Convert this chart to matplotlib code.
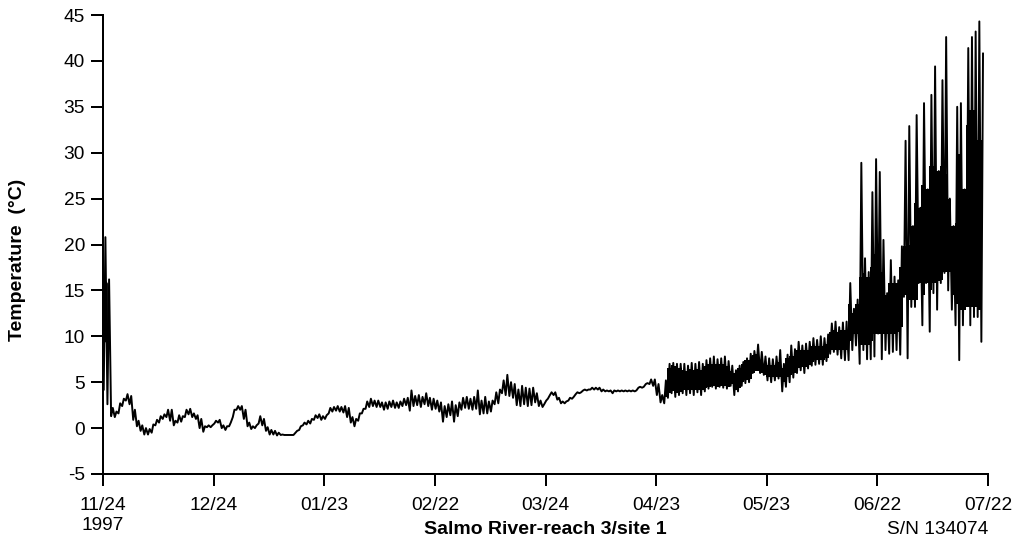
import numpy as np
import matplotlib.pyplot as plt

plt.rcParams['font.family'] = ['Liberation Sans', 'DejaVu Sans']
plt.rcParams['axes.unicode_minus'] = False

# daily minimum / maximum water temperature (deg C), one value per day from 11/24/1997
day_low = [
    4.2, 2.6, 1.3, 1.2, 1.6, 2.4, 3.0, 2.6, 0.9, 0.2,
    -0.3, -0.7, -0.7, -0.5, 0.3, 0.6, 1.0, 1.2, 0.8, 0.3,
    0.6, 0.7, 1.2, 1.5, 1.2, 1.0, 0.0, -0.4, 0.1, 0.1,
    0.5, 0.6, 0.0, -0.2, 0.2, 1.2, 2.0, 2.0, 1.0, 0.2,
    -0.1, 0.0, 0.5, 0.3, -0.3, -0.7, -0.7, -0.8, -0.75, -0.75,
    -0.75, -0.75, -0.5, -0.2, 0.3, 0.4, 0.5, 0.9, 1.1, 0.9,
    1.0, 1.6, 1.8, 1.9, 1.8, 1.7, 1.2, 0.6, 0.2, 0.8,
    1.6, 2.1, 2.3, 2.4, 2.3, 2.3, 2.0, 2.1, 2.3, 2.2,
    2.2, 2.4, 2.5, 1.9, 2.4, 2.5, 2.3, 2.6, 2.4, 2.0,
    2.1, 1.8, 0.7, 1.2, 1.4, 0.7, 1.3, 2.0, 2.2, 2.1,
    2.0, 2.1, 1.5, 1.6, 1.6, 1.8, 2.6, 2.7, 3.8, 3.6,
    3.5, 3.3, 2.5, 2.4, 2.6, 2.4, 2.5, 2.8, 2.4, 2.3,
    3.0, 3.6, 3.6, 3.1, 2.7, 2.7, 3.0, 3.2, 3.7, 3.8,
    4.1, 4.1, 4.2, 4.2, 4.2, 4.0, 4.0, 4.0, 3.8, 4.0,
    4.0, 4.0, 4.0, 4.0, 4.0, 4.4, 4.4, 4.8, 4.8, 4.6,
    3.6, 2.8, 2.7, 3.3, 3.8, 3.4, 3.6, 3.8, 3.6, 3.8,
    3.6, 3.9, 3.6, 4.0, 4.3, 4.5, 4.3, 4.5, 4.4, 4.3,
    4.6, 3.6, 4.0, 4.6, 4.9, 5.0, 6.0, 6.5, 6.0, 5.8,
    5.2, 5.0, 5.2, 5.4, 4.0, 4.5, 5.0, 5.5, 6.0, 6.3,
    6.0, 6.5, 6.8, 6.9, 7.0, 6.9, 7.3, 8.1, 8.3, 8.0,
    7.6, 7.4, 7.4, 8.5, 9.0, 7.0, 8.5, 7.5, 7.5, 7.8,
    10.3, 7.5, 8.5, 8.1, 8.3, 8.5, 8.0, 14.3, 7.6, 13.2,
    13.2, 15.8, 11.2, 15.8, 10.5, 14.7, 12.9, 15.8, 16.9, 15.0,
    12.9, 11.2, 7.4, 11.2, 15.2, 11.2, 12.1, 12.1, 9.4,
]
day_high = [
    20.8, 16.2, 2.2, 1.8, 2.7, 3.2, 3.7, 3.5, 2.0, 0.8,
    0.3, 0.0, -0.1, 0.4, 0.9, 1.3, 1.5, 2.0, 2.0, 0.8,
    1.4, 1.3, 2.0, 2.1, 1.6, 1.4, 1.0, 0.2, 0.3, 0.3,
    0.8, 0.9, 0.3, 0.2, 0.6, 2.0, 2.4, 2.4, 2.0, 0.6,
    0.2, 0.3, 1.3, 1.0, 0.1, -0.2, -0.3, -0.5, -0.7, -0.75,
    -0.75, -0.75, -0.3, 0.2, 0.6, 0.8, 1.0, 1.4, 1.5, 1.3,
    1.4, 2.2, 2.3, 2.4, 2.3, 2.4, 2.2, 1.2, 1.0, 1.6,
    2.1, 2.9, 3.2, 3.0, 3.0, 2.8, 2.8, 2.9, 3.0, 2.8,
    2.9, 3.2, 3.3, 4.1, 3.5, 3.6, 3.4, 3.8, 3.3, 3.2,
    3.0, 2.8, 2.4, 2.6, 2.9, 2.5, 2.8, 3.3, 3.4, 3.2,
    3.4, 4.1, 3.0, 3.4, 2.9, 3.0, 3.9, 4.2, 5.2, 5.8,
    5.0, 4.8, 4.2, 4.6, 4.4, 4.3, 4.4, 3.8, 3.0, 2.6,
    3.2, 3.9, 3.9, 3.3, 2.9, 2.9, 3.3, 3.4, 3.9, 3.9,
    4.2, 4.2, 4.4, 4.4, 4.4, 4.2, 4.1, 4.1, 4.1, 4.1,
    4.1, 4.1, 4.1, 4.1, 4.1, 4.5, 4.5, 4.9, 5.3, 5.3,
    4.8, 3.6, 5.2, 7.0, 7.1, 7.0, 7.0, 7.0, 6.8, 7.1,
    7.0, 7.2, 7.0, 7.4, 7.6, 7.8, 7.5, 7.6, 7.8, 7.3,
    6.8, 6.3, 6.8, 7.2, 7.6, 8.1, 8.4, 9.1, 8.3, 7.8,
    7.6, 7.5, 7.8, 8.5, 7.0, 8.0, 9.0, 8.6, 9.4, 9.0,
    9.2, 9.4, 9.8, 9.6, 10.0, 9.8, 10.2, 11.4, 11.6, 11.0,
    11.5, 11.6, 15.8, 13.0, 14.0, 28.9, 18.5, 17.0, 25.7, 29.3,
    27.9, 20.5, 14.7, 18.3, 16.5, 16.1, 19.8, 31.3, 32.9, 22.0,
    34.1, 24.0, 35.4, 26.0, 36.3, 39.4, 28.0, 37.9, 42.6, 25.0,
    22.0, 35.0, 35.4, 26.0, 41.4, 42.6, 43.2, 44.3, 40.8,
]

# range holding most of the readings each day: first two days after deployment,
# then from day 152 once the diurnal swing sets in
first_bot = [9.4, 9.4]
first_top = [16.4, 15.8]
band_start = 152
band_bot = [
    3.4, 3.8, 4.0, 3.8, 3.9, 4.1, 4.1, 4.2,
    4.2, 4.2, 4.2, 4.4, 4.5, 4.6, 4.5, 4.6, 4.6, 4.5,
    4.8, 4.2, 4.4, 5.0, 5.2, 5.3, 6.0, 6.2, 6.0, 5.8,
    5.6, 5.6, 5.6, 5.6, 5.0, 5.6, 5.8, 6.0, 6.6, 6.7,
    6.7, 6.9, 7.2, 7.4, 7.4, 7.4, 7.6, 8.5, 8.5, 8.5,
    8.5, 8.5, 9.5, 10.3, 10.3, 9.0, 9.0, 9.0, 9.5, 10.3,
    10.3, 10.3, 10.3, 10.3, 10.3, 10.5, 11.0, 14.5, 14.0, 14.0,
    14.0, 15.8, 14.5, 15.8, 15.0, 15.8, 16.0, 16.1, 17.0, 17.0,
    14.5, 13.5, 12.9, 12.9, 13.2, 13.2, 13.2, 12.9, 12.9,
]
band_top = [
    4.5, 6.5, 6.9, 6.8, 6.6, 6.3, 6.2, 6.4,
    6.3, 6.4, 6.3, 6.8, 7.0, 7.0, 7.0, 7.0, 7.0, 6.8,
    6.2, 6.0, 6.5, 7.0, 7.4, 7.4, 8.0, 8.1, 7.2, 6.9,
    6.9, 6.9, 6.9, 7.2, 6.6, 7.6, 7.8, 7.8, 8.5, 8.5,
    8.5, 8.5, 8.9, 8.9, 8.9, 8.9, 9.2, 10.5, 10.7, 10.5,
    10.7, 10.7, 13.5, 12.5, 13.5, 16.5, 16.9, 16.5, 17.5, 19.0,
    19.0, 17.0, 14.5, 15.8, 15.8, 15.8, 17.5, 19.8, 20.0, 22.0,
    24.5, 24.0, 26.5, 26.0, 28.5, 28.5, 28.0, 28.5, 27.7, 25.0,
    22.0, 22.3, 29.9, 26.0, 33.0, 34.6, 34.6, 31.4, 31.4,
]

tick_days = [0, 30, 60, 90, 120, 150, 180, 210, 240]
tick_labels = ['11/24\n1997', '12/24', '01/23', '02/22', '03/24',
               '04/23', '05/23', '06/22', '07/22']
y_ticks = [-5, 0, 5, 10, 15, 20, 25, 30, 35, 40, 45]

# low in the early morning, high in the afternoon
days = np.arange(len(day_low))
t = np.column_stack([days + 0.2, days + 0.65]).ravel()
temp = np.column_stack([day_low, day_high]).ravel()
band_t = np.arange(len(band_bot)) + band_start + 0.42
first_t = np.arange(len(first_bot)) * 0.9 + 0.3

fig = plt.figure(figsize=(10.22, 5.45), dpi=100)
ax = fig.add_axes([103 / 1022, 1 - 474 / 545, 885 / 1022, 459 / 545])
ax.fill_between(first_t, first_bot, first_top, color='black', lw=0)
ax.fill_between(band_t, band_bot, band_top, step='mid', color='black', lw=0)
ax.plot(t, temp, color='black', lw=1.4)

ax.set_xlim(0, 240)
ax.set_ylim(-5, 45)
ax.spines['top'].set_visible(False)
ax.spines['right'].set_visible(False)
for s in ['left', 'bottom']:
    ax.spines[s].set_linewidth(1.44)
ax.set_xticks(tick_days, tick_labels)
ax.set_yticks(y_ticks)
ax.tick_params(axis='both', direction='out', length=8.6, width=1.44,
               labelsize=13.8, colors='black')
ax.tick_params(axis='x', pad=8)
ax.tick_params(axis='y', pad=4.3)

fig.text(18 / 1022, 1 - 260 / 545, 'Temperature  (°C)', rotation=90,
         ha='center', va='center', fontsize=14, fontweight='bold')
fig.text(545.5 / 1022, 1 - 530 / 545, 'Salmo River-reach 3/site 1',
         ha='center', va='center', fontsize=14, fontweight='bold')
fig.text(988 / 1022, 1 - 530 / 545, 'S/N 134074',
         ha='right', va='center', fontsize=13.8)

plt.savefig('out.png', dpi=100)
